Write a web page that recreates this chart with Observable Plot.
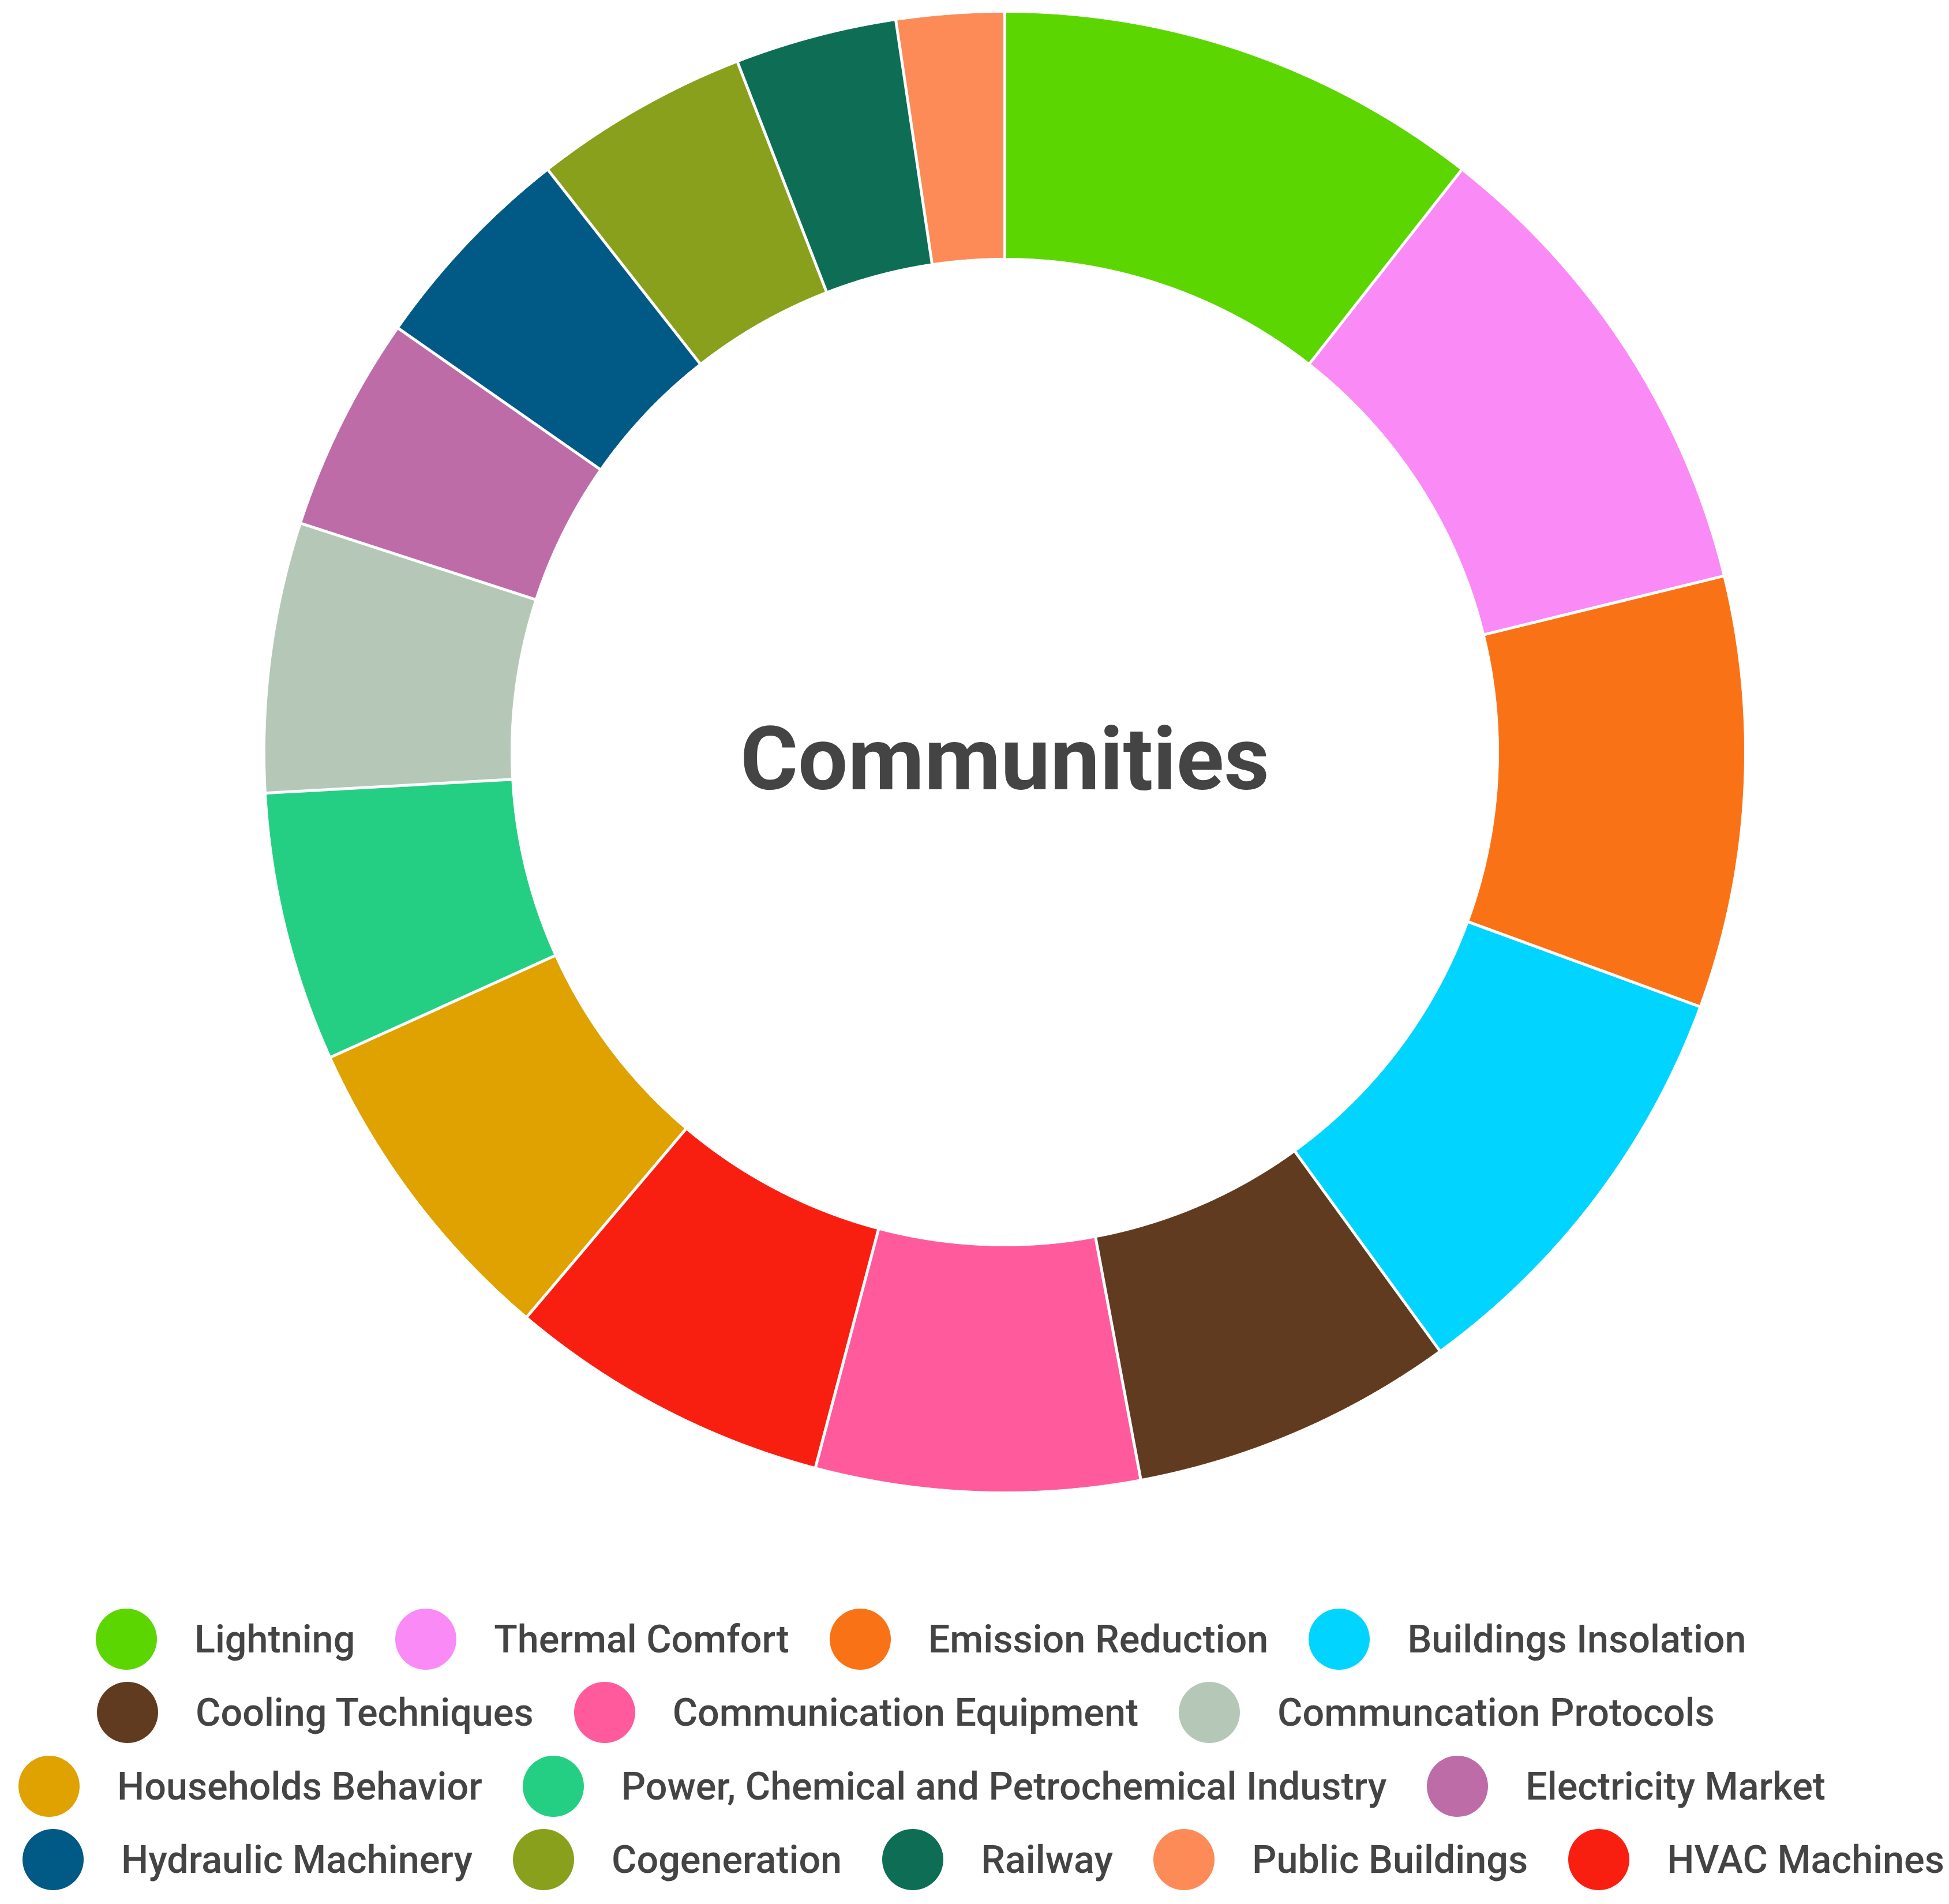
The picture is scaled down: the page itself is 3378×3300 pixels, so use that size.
<!DOCTYPE html>
<html>
<head>
<meta charset="utf-8">
<script src="https://cdn.jsdelivr.net/npm/d3@7"></script>
<script src="https://cdn.jsdelivr.net/npm/@observablehq/plot@0.6"></script>
<style>
  html, body { margin: 0; padding: 0; background: #ffffff; }
  #chart svg { display: block; }
  #legend { width: 3378px; font-family: Roboto, "Noto Sans", sans-serif; font-weight: 500; color: #444444; }
  .lrow { height: 127.5px; display: flex; align-items: center; white-space: nowrap; }
  .litem { display: flex; align-items: center; margin-right: 70px; }
  .ldot { width: 106px; height: 106px; border-radius: 50%; margin-right: 65px; flex: none; }
  .ltext { font-size: 66.5px; line-height: 1; }
</style>
</head>
<body>
<div id="chart"></div>
<div id="legend"></div>
<script>
// ---- data ----
const categories = [
  "Lightning", "Thermal Comfort", "Emission Reduction", "Buildings Insolation",
  "Cooling Techniques", "Communication Equipment", "HVAC Machines", "Households Behavior",
  "Power, Chemical and Petrochemical Industry", "Communcation Protocols", "Electricity Market",
  "Hydraulic Machinery", "Cogeneration", "Railway", "Public Buildings"
];
const values = [9, 9, 8, 8, 6, 6, 6, 6, 5, 5, 4, 4, 4, 3, 2];
const colors = [
  "#5bd600", "#f98af6", "#f97316", "#00d4ff",
  "#613b1f", "#ff5a9c", "#f91f10", "#dfa200",
  "#24cf84", "#b5c8b8", "#bd6ca8",
  "#005a85", "#88a01b", "#0d6e55", "#fc8b57"
];
const legendOrder = [
  "Lightning", "Thermal Comfort", "Emission Reduction", "Buildings Insolation",
  "Cooling Techniques", "Communication Equipment", "Communcation Protocols",
  "Households Behavior", "Power, Chemical and Petrochemical Industry", "Electricity Market",
  "Hydraulic Machinery", "Cogeneration", "Railway", "Public Buildings", "HVAC Machines"
];
const legendRowSizes = [4, 3, 3, 5];
const centerLabel = "Communities";

// ---- geometry (layout) ----
const W = 3378, H = 2777;
const cx = 1741, cy = 1303, R = 1281, rIn = 857;
const innerFrac = rIn / R;

const arcs = d3.pie().sort(null).value((d, i) => values[i])(categories);

const slicePts = arcs.flatMap((a) => {
  const pts = [];
  const n = Math.max(16, Math.ceil((a.endAngle - a.startAngle) / 0.004));
  for (let k = 0; k <= n; k++) {
    const t = a.startAngle + (a.endAngle - a.startAngle) * k / n;
    pts.push({name: a.data, x: Math.sin(t), y: Math.cos(t)});
  }
  for (let k = n; k >= 0; k--) {
    const t = a.startAngle + (a.endAngle - a.startAngle) * k / n;
    pts.push({name: a.data, x: innerFrac * Math.sin(t), y: innerFrac * Math.cos(t)});
  }
  pts.push({...pts[0]});
  return pts;
});

const seps = arcs.map(a => ({
  x1: innerFrac * 0.98 * Math.sin(a.startAngle), y1: innerFrac * 0.98 * Math.cos(a.startAngle),
  x2: 1.02 * Math.sin(a.startAngle), y2: 1.02 * Math.cos(a.startAngle)
}));

const titleData = [{x: 0, y: 0, text: centerLabel}];

const chart = Plot.plot({
  width: W,
  height: H,
  margin: 0,
  style: {background: "#ffffff"},
  x: {domain: [-1, 1], range: [cx - R, cx + R], axis: null},
  y: {domain: [-1, 1], range: [cy + R, cy - R], axis: null},
  color: {type: "ordinal", domain: categories, range: colors},
  marks: [
    Plot.line(slicePts, {x: "x", y: "y", z: "name", fill: "name", stroke: "name", strokeWidth: 1, curve: "linear"}),
    Plot.link(seps, {x1: "x1", y1: "y1", x2: "x2", y2: "y2", stroke: "#ffffff", strokeWidth: 5}),
    Plot.text(titleData, {x: "x", y: "y", text: "text", fontSize: 153, fontWeight: 700,
      fontFamily: "Roboto, 'Noto Sans', sans-serif", fill: "#444444", dy: 16})
  ]
});
document.getElementById("chart").appendChild(chart);

// ---- legend ----
const colorOf = new Map(categories.map((c, i) => [c, colors[i]]));
const rowStarts = [166, 168, 32, 39];
const legend = document.getElementById("legend");
let idx = 0;
legendRowSizes.forEach((size, r) => {
  const row = document.createElement("div");
  row.className = "lrow";
  row.style.paddingLeft = rowStarts[r] + "px";
  for (let k = 0; k < size; k++, idx++) {
    const name = legendOrder[idx];
    const item = document.createElement("div");
    item.className = "litem";
    const dot = document.createElement("span");
    dot.className = "ldot";
    dot.style.background = colorOf.get(name);
    const txt = document.createElement("span");
    txt.className = "ltext";
    txt.textContent = name;
    item.appendChild(dot);
    item.appendChild(txt);
    row.appendChild(item);
  }
  legend.appendChild(row);
});
</script>
</body>
</html>
